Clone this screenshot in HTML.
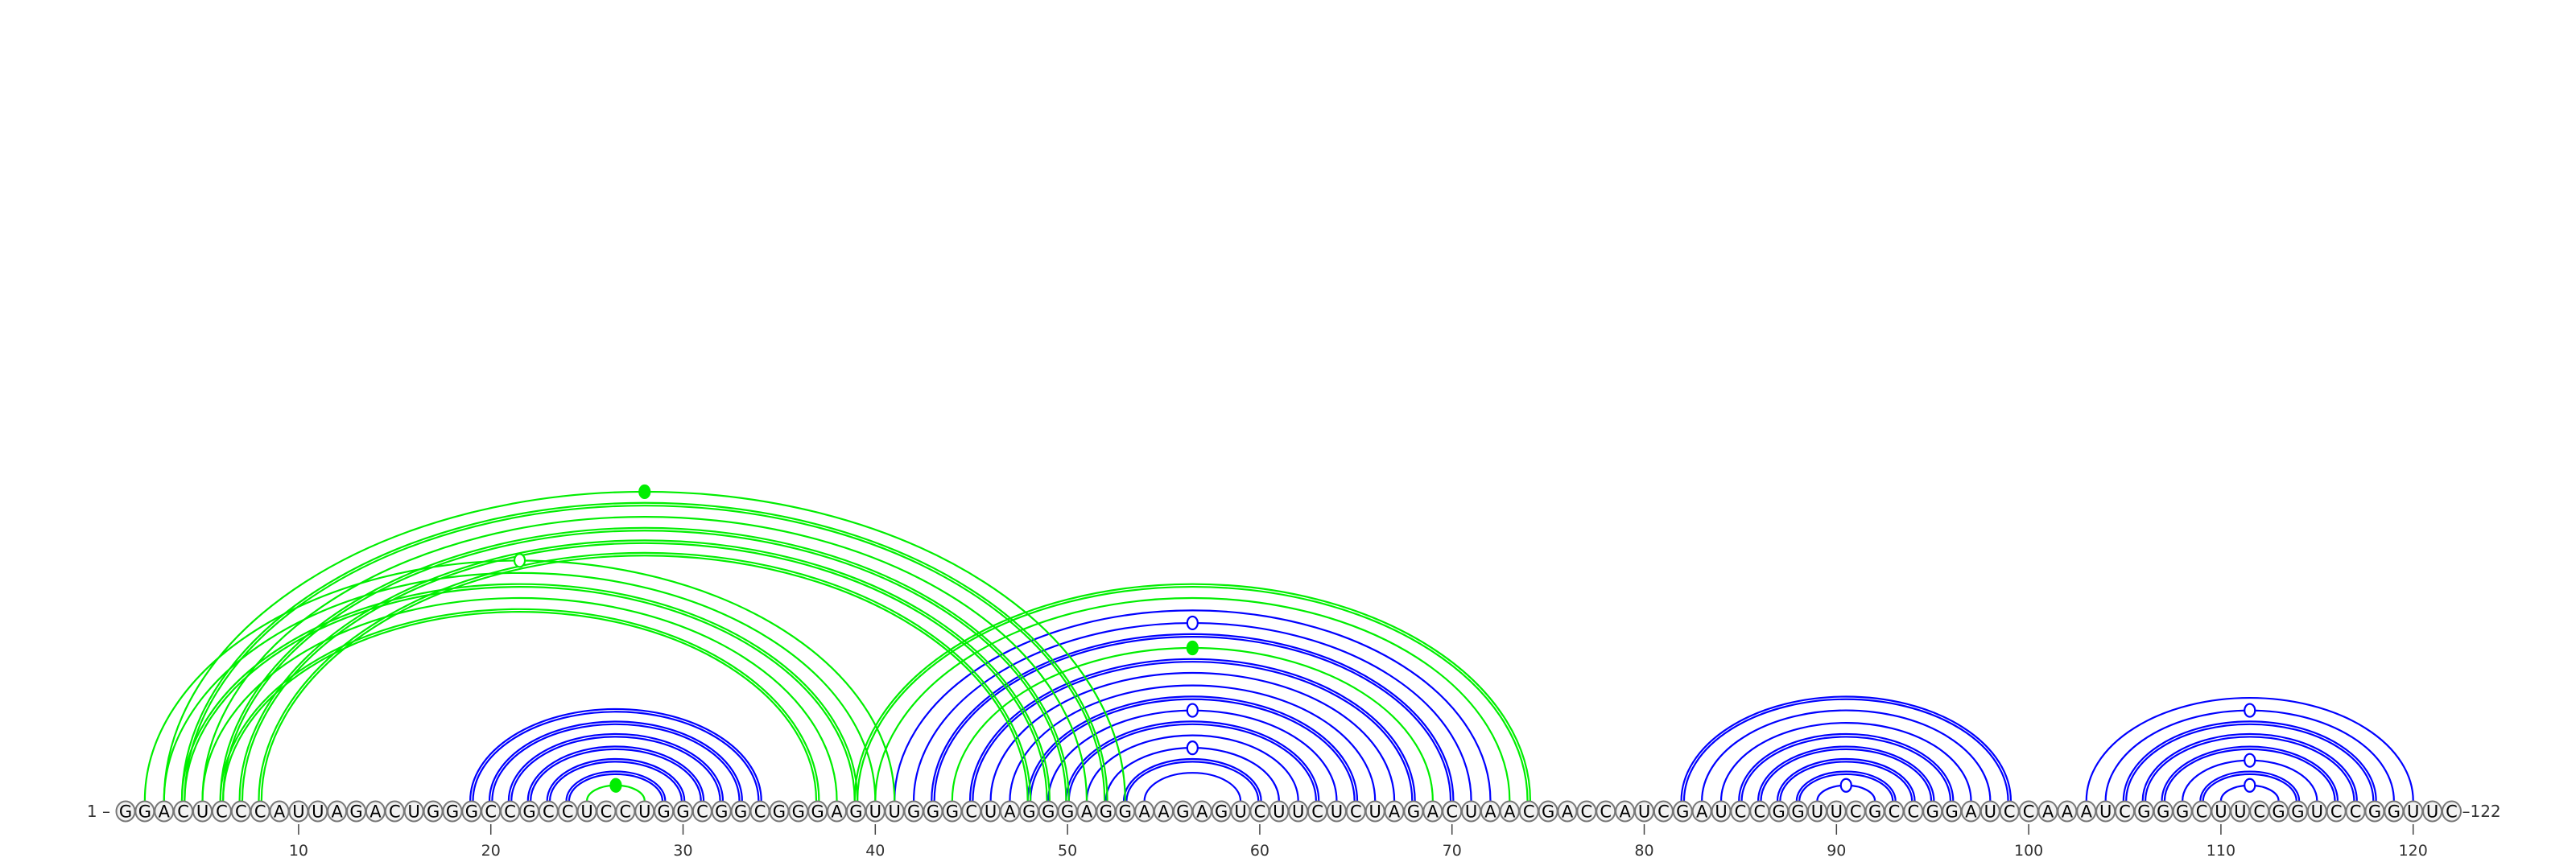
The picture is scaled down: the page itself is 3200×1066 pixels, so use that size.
<!DOCTYPE html>
<html><head><meta charset="utf-8">
<style>
html,body{margin:0;padding:0;background:#fff;}
svg{display:block;font-family:"DejaVu Sans","Liberation Sans",sans-serif;}
</style></head>
<body>
<svg id="chart" width="3200" height="1066" viewBox="0 0 3200 1066" xmlns="http://www.w3.org/2000/svg">
<g id="arcs"></g>
<g id="bases"></g>
<g id="axis"></g>
</svg>
<script>
const sequence = "GGACUCCCAUUAGACUGGGCCGCCUCCUGGCGGCGGGAGUUGGGCUAGGGAGGAAGAGUCUUCUCUAGACUAACGACCAUCGAUCCGGUUCGCCGGAUCCAAAUCGGGCUUCGGUCCGGUUC";
const bluePairs = [
 [19,34],[20,33],[21,32],[22,31],[23,30],[24,29],
 [41,72],[42,71],[43,70],[45,68],[46,67],[47,66],[48,65],[49,64],[50,63],[51,62],[52,61],[53,60],[54,59],
 [82,99],[83,98],[84,97],[85,96],[86,95],[87,94],[88,93],[89,92],
 [103,120],[104,119],[105,118],[106,117],[107,116],[108,115],[109,114],[110,113]
];
const greenPairs = [
 [25,28],
 [3,53],[4,52],[5,51],[6,50],[7,49],[8,48],
 [2,41],[3,40],[4,39],[5,38],[6,37],
 [44,69],[39,74],[40,73]
];
const tickLabels = [10,20,30,40,50,60,70,80,90,100,110,120];

const NS = "http://www.w3.org/2000/svg";
const x0 = 156, step = 23.88, baseY = 1008, footY = 995;
function xPos(i){ return x0 + (i-1)*step; }
function arcH(s){ return Math.max(6, 0.65*s - 4); }
function mk(tag, attrs, parent){
  const e = document.createElementNS(NS, tag);
  for (const k in attrs) e.setAttribute(k, attrs[k]);
  parent.appendChild(e); return e;
}
const arcsG = document.getElementById('arcs');
function pairType(a,b){
  const p = a+b;
  if (p==="GC"||p==="CG") return "gc";
  if (p==="GU"||p==="UG") return "gu";
  if (p==="AU"||p==="UA") return "au";
  return "nc";
}
function drawPair(pair, color, setName){
  const i = pair[0], j = pair[1];
  const xa = xPos(i), xb = xPos(j), cx = (xa+xb)/2, s = (xb-xa)/2, h = arcH(s);
  const t = pairType(sequence[i-1], sequence[j-1]);
  const offs = t==="gc" ? [-1.7, 1.7] : [0];
  offs.forEach(o=>{
    const ss = s+o, hh = h+o;
    const p = mk('path', {d:`M${cx-ss},${footY} A${ss},${hh} 0 0 1 ${cx+ss},${footY}`, fill:'none', stroke:color, 'stroke-width':2.2}, arcsG);
    
    
  });
  if (t==="gu" || t==="nc"){
    const m = mk('ellipse', {cx:cx, cy:footY-h, rx:6.5, ry:8, fill: t==="gu" ? '#fff' : color, stroke:color, 'stroke-width':2.2}, arcsG);
    
    
  }
}
bluePairs.forEach(p=>drawPair(p, '#0000ff', 'blue'));
greenPairs.forEach(p=>drawPair(p, '#00ee00', 'green'));

const basesG = document.getElementById('bases');
for (let k=0; k<sequence.length; k++){
  const x = xPos(k+1);
  const c = mk('ellipse', {cx:x, cy:baseY, rx:11.5, ry:12.5, fill:'#f2f2f2', stroke:'#777', 'stroke-width':2}, basesG);
  
  
  const t = mk('text', {x:x, y:baseY+7.5, 'text-anchor':'middle', 'font-size':21, fill:'#000'}, basesG);
  
  
  t.textContent = sequence[k];
}
const axisG = document.getElementById('axis');
tickLabels.forEach(v=>{
  const x = xPos(v);
  const l = mk('line', {x1:x, x2:x, y1:1024, y2:1037, stroke:'#444', 'stroke-width':1.5}, axisG);
  
  
  const t = mk('text', {x:x, y:1063, 'text-anchor':'middle', 'font-size':19, fill:'#333'}, axisG);
  
  
  t.textContent = v;
});
const st = mk('text', {x:137, y:baseY+7, 'text-anchor':'end', 'font-size':20, fill:'#333'}, axisG);


st.textContent = "1 \u2013";
const en = mk('text', {x:xPos(sequence.length)+13, y:baseY+7, 'text-anchor':'start', 'font-size':20, fill:'#333'}, axisG);


en.textContent = "\u2013" + sequence.length;
</script>
</body></html>
